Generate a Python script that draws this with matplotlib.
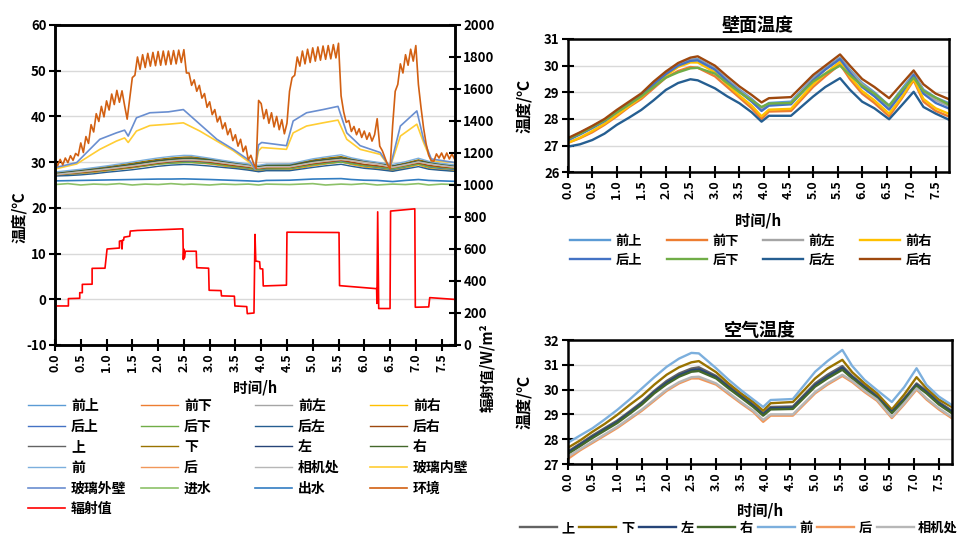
import matplotlib
matplotlib.use('Agg')
import matplotlib.pyplot as plt
import numpy as np
from matplotlib.ticker import MultipleLocator, FormatStrFormatter

plt.rcParams['font.family'] = ['Noto Sans CJK SC', 'DejaVu Sans']
plt.rcParams['font.weight'] = 'bold'
plt.rcParams['axes.unicode_minus'] = False

# ---------------- data ----------------
T = [0, 0.25, 0.5, 0.75, 1.0, 1.25, 1.5, 1.75, 2.0, 2.25, 2.5, 2.65, 3.0, 3.25, 3.5, 3.75,
     3.95, 4.1, 4.55, 5.0, 5.25, 5.55, 5.75, 6.0, 6.25, 6.55, 6.8, 7.05, 7.25, 7.5, 7.76]

# wall temperatures
qian_shang = [27.25, 27.48, 27.72, 27.97, 28.3, 28.6, 28.92, 29.35, 29.72, 30.05, 30.22, 30.25, 29.9, 29.48, 29.1, 28.75,
              28.42, 28.6, 28.65, 29.55, 29.9, 30.3, 29.85, 29.35, 29.0, 28.5, 29.1, 29.7, 29.1, 28.8, 28.6]
qian_xia = [27.1, 27.28, 27.5, 27.78, 28.1, 28.45, 28.75, 29.15, 29.55, 29.8, 29.95, 29.92, 29.6, 29.2, 28.8, 28.4,
            28.0, 28.28, 28.3, 29.2, 29.6, 30.05, 29.5, 28.95, 28.6, 28.1, 28.75, 29.45, 28.65, 28.3, 28.1]
qian_zuo = [27.22, 27.45, 27.68, 27.93, 28.27, 28.58, 28.9, 29.32, 29.7, 30.02, 30.2, 30.22, 29.88, 29.45, 29.05, 28.7,
            28.38, 28.55, 28.6, 29.5, 29.87, 30.27, 29.8, 29.3, 28.95, 28.45, 29.0, 29.68, 29.05, 28.7, 28.5]
qian_you = [27.1, 27.3, 27.55, 27.82, 28.15, 28.48, 28.82, 29.25, 29.62, 29.95, 30.12, 30.12, 29.75, 29.3, 28.88, 28.5,
            28.1, 28.35, 28.38, 29.3, 29.7, 30.15, 29.6, 29.05, 28.7, 28.2, 28.8, 29.5, 28.75, 28.4, 28.2]
hou_shang = [27.2, 27.42, 27.66, 27.92, 28.25, 28.55, 28.88, 29.3, 29.68, 30.0, 30.18, 30.2, 29.85, 29.42, 29.02, 28.65,
             28.3, 28.5, 28.55, 29.45, 29.85, 30.25, 29.75, 29.2, 28.85, 28.35, 28.95, 29.65, 28.95, 28.6, 28.4]
hou_xia = [27.25, 27.45, 27.7, 27.95, 28.25, 28.55, 28.85, 29.2, 29.55, 29.75, 29.9, 29.92, 29.7, 29.35, 29.0, 28.7,
           28.45, 28.58, 28.6, 29.4, 29.7, 30.0, 29.65, 29.25, 28.95, 28.5, 29.05, 29.55, 29.05, 28.8, 28.55]
hou_zuo = [26.96, 27.05, 27.21, 27.45, 27.78, 28.05, 28.34, 28.7, 29.09, 29.35, 29.49, 29.45, 29.15, 28.85, 28.59, 28.25,
           27.9, 28.12, 28.12, 28.84, 29.2, 29.53, 29.1, 28.65, 28.4, 27.99, 28.5, 29.02, 28.45, 28.2, 27.98]
hou_you = [27.28, 27.5, 27.74, 28.0, 28.34, 28.65, 28.96, 29.4, 29.78, 30.1, 30.3, 30.35, 30.0, 29.6, 29.22, 28.9,
           28.62, 28.78, 28.82, 29.65, 30.0, 30.42, 30.0, 29.5, 29.2, 28.78, 29.3, 29.82, 29.3, 28.95, 28.75]

# air temperatures
air_shang = [27.5, 27.82, 28.15, 28.45, 28.75, 29.12, 29.5, 29.95, 30.35, 30.65, 30.85, 30.9, 30.55, 30.15, 29.78, 29.4,
             29.05, 29.3, 29.32, 30.25, 30.6, 30.95, 30.55, 30.15, 29.75, 29.15, 29.65, 30.25, 29.95, 29.5, 29.15]
air_xia = [27.65, 27.95, 28.3, 28.62, 28.98, 29.38, 29.75, 30.2, 30.6, 30.9, 31.1, 31.15, 30.7, 30.25, 29.85, 29.5,
           29.15, 29.45, 29.5, 30.45, 30.85, 31.2, 30.7, 30.25, 29.85, 29.2, 29.8, 30.5, 30.05, 29.6, 29.3]
air_zuo = [27.45, 27.78, 28.1, 28.4, 28.7, 29.07, 29.45, 29.9, 30.28, 30.58, 30.78, 30.82, 30.5, 30.1, 29.72, 29.35,
           29.0, 29.25, 29.27, 30.18, 30.52, 30.88, 30.5, 30.1, 29.7, 29.1, 29.6, 30.2, 29.9, 29.45, 29.1]
air_you = [27.4, 27.72, 28.05, 28.35, 28.65, 29.02, 29.4, 29.85, 30.22, 30.52, 30.72, 30.75, 30.45, 30.05, 29.68, 29.3,
           28.95, 29.2, 29.22, 30.12, 30.45, 30.8, 30.45, 30.05, 29.65, 29.05, 29.55, 30.15, 29.85, 29.4, 29.05]
air_qian = [27.85, 28.15, 28.44, 28.8, 29.18, 29.6, 30.05, 30.5, 30.92, 31.25, 31.48, 31.46, 30.86, 30.4, 29.98, 29.6,
            29.3, 29.58, 29.62, 30.72, 31.15, 31.6, 30.95, 30.39, 29.98, 29.5, 30.1, 30.86, 30.19, 29.72, 29.38]
air_hou = [27.2, 27.55, 27.85, 28.15, 28.45, 28.8, 29.15, 29.55, 29.95, 30.25, 30.45, 30.45, 30.2, 29.82, 29.45, 29.1,
           28.7, 28.95, 28.95, 29.85, 30.2, 30.55, 30.3, 29.9, 29.55, 28.85, 29.4, 30.0, 29.6, 29.2, 28.85]
air_camera = [27.3, 27.6, 27.9, 28.2, 28.5, 28.85, 29.2, 29.6, 30.0, 30.3, 30.5, 30.52, 30.25, 29.88, 29.5, 29.15,
              28.78, 29.0, 29.0, 29.9, 30.25, 30.6, 30.35, 29.95, 29.6, 28.9, 29.45, 30.05, 29.65, 29.25, 28.9]

# water
water_in = [25.1, 25.3, 25.0, 25.2, 25.1, 25.3, 25.0, 25.2, 25.1, 25.3, 25.1, 25.2, 25.0, 25.2, 25.1, 25.2,
            25.0, 25.2, 25.1, 25.3, 25.0, 25.2, 25.1, 25.3, 25.0, 25.2, 25.1, 25.3, 25.0, 25.2, 25.1]
water_out = [25.9, 25.95, 26.0, 26.05, 26.1, 26.15, 26.2, 26.25, 26.3, 26.3, 26.35, 26.3, 26.2, 26.1, 26.0, 25.9,
             25.8, 26.0, 26.05, 26.3, 26.35, 26.4, 26.2, 26.05, 26.0, 25.75, 26.0, 26.2, 26.0, 25.9, 25.8]

# glass
glass_t = [0, 0.42, 0.87, 1.19, 1.35, 1.42, 1.58, 1.84, 2.2, 2.49, 2.81, 3.14, 3.46, 3.78, 3.88, 3.95, 4.01, 4.49,
           4.62, 4.88, 5.2, 5.49, 5.66, 5.92, 6.31, 6.50, 6.70, 7.02, 7.15, 7.30, 7.76]
glass_out = [28.8, 29.9, 35.0, 36.4, 37.0, 35.7, 39.7, 40.8, 41.0, 41.5, 38.3, 35.0, 32.8, 30.3, 28.5, 33.8, 34.3, 33.6,
             39.0, 40.8, 41.5, 42.2, 36.4, 33.6, 32.1, 28.8, 37.9, 41.2, 35.0, 30.7, 29.9]
glass_in = [28.5, 29.6, 32.8, 34.6, 35.3, 34.3, 36.8, 38.0, 38.3, 38.6, 36.8, 34.6, 32.5, 29.9, 28.5, 32.5, 33.2, 32.8,
            36.4, 37.9, 38.6, 39.2, 35.0, 32.8, 31.7, 28.8, 35.7, 38.3, 34.3, 30.3, 29.9]

# ambient (sampled every 0.05 h)
amb_t = np.arange(156) * 0.05
ambient = [30.4, 29.2, 30.6, 29.4, 30.9, 29.9, 31.4, 30.4, 31.9, 31.4,
           34.2, 32.1, 35.6, 34.1, 38.2, 36.6, 40.6, 38.9, 42.2, 39.9,
           43.4, 41.4, 44.9, 42.6, 45.7, 43.1, 45.6, 42.4, 39.4, 44.0,
           48.5, 49.0, 53.0, 50.3, 53.5, 50.7, 53.8, 51.0, 54.0, 51.1,
           54.2, 51.2, 54.3, 51.3, 54.3, 51.4, 54.4, 51.5, 54.5, 51.8,
           54.6, 49.5, 49.5, 46.8, 48.0, 45.5, 46.8, 44.0, 45.0, 42.0,
           43.2, 40.4, 41.5, 38.8, 40.0, 37.3, 38.6, 36.0, 37.3, 34.7,
           36.0, 33.5, 35.0, 32.3, 33.5, 30.5, 31.5, 29.8, 28.6, 43.5,
           42.8, 39.5, 41.5, 38.5, 40.8, 37.7, 40.0, 37.1, 39.3, 36.2,
           38.5, 45.5, 48.5, 49.0, 53.0, 51.0, 54.3, 51.5, 54.7, 51.8,
           55.0, 52.1, 55.2, 52.3, 55.4, 52.5, 55.5, 52.6, 55.7, 52.8,
           56.0, 44.5, 41.0, 38.7, 39.1, 36.7, 37.8, 36.0, 37.3, 35.4,
           36.8, 35.0, 36.4, 34.6, 36.0, 39.5, 33.5, 32.5, 31.0, 29.5,
           28.5, 38.0, 45.5, 47.0, 51.5, 49.5, 53.5, 51.2, 54.7, 52.1,
           55.5, 47.0, 42.0, 37.5, 34.0, 31.5, 30.3, 30.2, 31.8, 30.9,
           32.0, 30.7, 32.0, 30.7, 31.8, 30.7]

# radiation (W/m2)
rad_t = [0.00, 0.26, 0.26, 0.48, 0.48, 0.53, 0.53, 0.72, 0.72, 0.97, 0.99, 1.01, 1.25, 1.25, 1.29, 1.30, 1.31,
         1.33, 1.34, 1.45, 1.46, 1.60, 2.00, 2.48, 2.49, 2.50, 2.51, 2.53, 2.74, 2.75, 2.98, 2.99, 3.22, 3.23,
         3.48, 3.49, 3.72, 3.73, 3.86, 3.88, 3.895, 3.97, 3.98, 4.03, 4.04, 4.49, 4.50, 5.51, 5.52, 6.24, 6.245,
         6.26, 6.28, 6.50, 6.51, 6.98, 6.99, 7.25, 7.27, 7.76]
rad_v = [244, 244, 290, 292, 327, 327, 379, 380, 479, 480, 540, 600, 606, 649, 652, 600, 655,
         655, 674, 680, 712, 716, 720, 726, 534, 600, 545, 586, 586, 483, 480, 342, 340, 307,
         305, 244, 240, 196, 200, 691, 525, 520, 477, 475, 369, 374, 705, 703, 371, 352, 260,
         832, 228, 228, 837, 851, 236, 238, 296, 285]

wall_names = ['前上', '前下', '前左', '前右', '后上', '后下', '后左', '后右']
wall_series = [qian_shang, qian_xia, qian_zuo, qian_you, hou_shang, hou_xia, hou_zuo, hou_you]
wall_colors = ['#5B9BD5', '#ED7D31', '#A5A5A5', '#FFC000', '#4472C4', '#70AD47', '#255E91', '#9E480E']

air_names = ['上', '下', '左', '右', '前', '后', '相机处']
air_series = [air_shang, air_xia, air_zuo, air_you, air_qian, air_hou, air_camera]
air_colors = ['#636363', '#997300', '#264478', '#43682B', '#7CAFDD', '#F1975A', '#B7B7B7']

other_colors = {'玻璃内壁': '#FFCD33', '玻璃外壁': '#698ED0', '进水': '#8CC168',
                '出水': '#327DC2', '环境': '#D26012', '辐射值': '#FF0000'}

XMAX = 7.76

# ---------------- figure ----------------
fig = plt.figure(figsize=(9.59, 5.36), dpi=100)
W, H = 959.0, 536.0


def px_axes(l, t, r, b):
    return fig.add_axes([l / W, 1 - b / H, (r - l) / W, (b - t) / H])


def style(ax, xl_size=9, yl_size=9.5):
    ax.set_xlim(0, XMAX)
    ax.xaxis.set_major_locator(MultipleLocator(0.5))
    ax.xaxis.set_major_formatter(FormatStrFormatter('%.1f'))
    ax.tick_params(axis='x', direction='inout', length=8, width=1.5, labelrotation=90,
                   labelsize=xl_size, pad=2)
    ax.tick_params(axis='y', direction='inout', length=8, width=1.5, labelsize=yl_size, pad=2)
    for s in ax.spines.values():
        s.set_linewidth(1.8)
        s.set_color('black')
    ax.grid(axis='y', color='#D9D9D9', lw=1)
    ax.set_axisbelow(True)


# ---- left chart ----
axL = px_axes(55, 25, 455, 345)
handles = {}
for n, s, c in zip(wall_names, wall_series, wall_colors):
    handles[n], = axL.plot(T, s, color=c, lw=1.0)
for n, s, c in zip(air_names, air_series, air_colors):
    handles[n], = axL.plot(T, s, color=c, lw=1.0)
handles['玻璃内壁'], = axL.plot(glass_t, glass_in, color=other_colors['玻璃内壁'], lw=1.2)
handles['玻璃外壁'], = axL.plot(glass_t, glass_out, color=other_colors['玻璃外壁'], lw=1.2)
handles['进水'], = axL.plot(T, water_in, color=other_colors['进水'], lw=1.2)
handles['出水'], = axL.plot(T, water_out, color=other_colors['出水'], lw=1.2)
handles['环境'], = axL.plot(amb_t, ambient, color=other_colors['环境'], lw=1.2)
axL.set_ylim(-10, 60)
axL.yaxis.set_major_locator(MultipleLocator(10))
style(axL)
axL.set_ylabel('温度/℃', fontsize=11, fontweight='bold')
axL.yaxis.set_label_coords(-0.07, 0.40)
axL.set_xlabel('时间/h', fontsize=10.5, fontweight='bold', va='top')
axL.xaxis.set_label_coords(0.5, -0.108)

axR = axL.twinx()
handles['辐射值'], = axR.plot(rad_t, rad_v, color=other_colors['辐射值'], lw=1.2)
axR.set_ylim(0, 2000)
axR.yaxis.set_major_locator(MultipleLocator(200))
axR.tick_params(axis='y', direction='inout', length=8, width=1.5, labelsize=9.5, pad=2)
for s in axR.spines.values():
    s.set_linewidth(1.8)
axR.set_ylabel('辐射值/W/m²', fontsize=10.5, fontweight='bold', rotation=90)
axR.yaxis.set_label_coords(1.06, -0.07)

left_order = ['前上', '前下', '前左', '前右', '后上', '后下', '后左', '后右',
              '上', '下', '左', '右', '前', '后', '相机处', '玻璃内壁',
              '玻璃外壁', '进水', '出水', '环境', '辐射值']
col_x = [28, 141, 255, 370]
for k, cx in enumerate(col_x):
    names = left_order[k::4]
    leg = fig.legend([handles[n] for n in names], names, loc='upper left',
                     bbox_to_anchor=(cx / W, 1 - 399 / H), frameon=False,
                     borderaxespad=0, borderpad=0, handlelength=2.65, handletextpad=0.45,
                     labelspacing=0.48, prop={'size': 10, 'weight': 'bold'})

# ---- right top chart ----
axT = px_axes(567.7, 39, 948.5, 172.3)
tw = []
for n, s, c in zip(wall_names, wall_series, wall_colors):
    h, = axT.plot(T, s, color=c, lw=1.7)
    tw.append(h)
axT.set_ylim(26, 31)
axT.yaxis.set_major_locator(MultipleLocator(1))
style(axT, 9, 9.5)
axT.set_title('壁面温度', fontsize=13, fontweight='bold', pad=6)
axT.set_ylabel('温度/℃', fontsize=11.5, fontweight='bold')
axT.yaxis.set_label_coords(-0.09, 0.5)
axT.set_xlabel('时间/h', fontsize=11, fontweight='bold', va='top')
axT.xaxis.set_label_coords(0.5, -0.30)
for k, cx in enumerate([570, 667, 763, 860]):
    fig.legend([tw[k], tw[k + 4]], [wall_names[k], wall_names[k + 4]], loc='upper left',
               bbox_to_anchor=(cx / W, 1 - 234 / H), frameon=False, borderaxespad=0,
               borderpad=0, handlelength=3.0, handletextpad=0.45, labelspacing=0.35,
               prop={'size': 9.5, 'weight': 'bold'})

# ---- right bottom chart ----
axB = px_axes(567.7, 340, 951.7, 464)
bh = []
for n, s, c in zip(air_names, air_series, air_colors):
    h, = axB.plot(T, s, color=c, lw=1.7)
    bh.append(h)
axB.set_ylim(27, 32)
axB.yaxis.set_major_locator(MultipleLocator(1))
style(axB, 9, 9.5)
axB.set_title('空气温度', fontsize=13, fontweight='bold', pad=1)
axB.set_ylabel('温度/℃', fontsize=11.5, fontweight='bold')
axB.yaxis.set_label_coords(-0.09, 0.5)
axB.set_xlabel('时间/h', fontsize=11, fontweight='bold', va='top')
axB.xaxis.set_label_coords(0.5, -0.31)
fig.legend(bh, air_names, loc='center', bbox_to_anchor=(739 / W, 1 - 528 / H), ncol=7,
           frameon=False, borderaxespad=0, borderpad=0, handlelength=2.8, handletextpad=0.35,
           columnspacing=0.35, prop={'size': 9.5, 'weight': 'bold'})

fig.savefig('out.png', dpi=100)
